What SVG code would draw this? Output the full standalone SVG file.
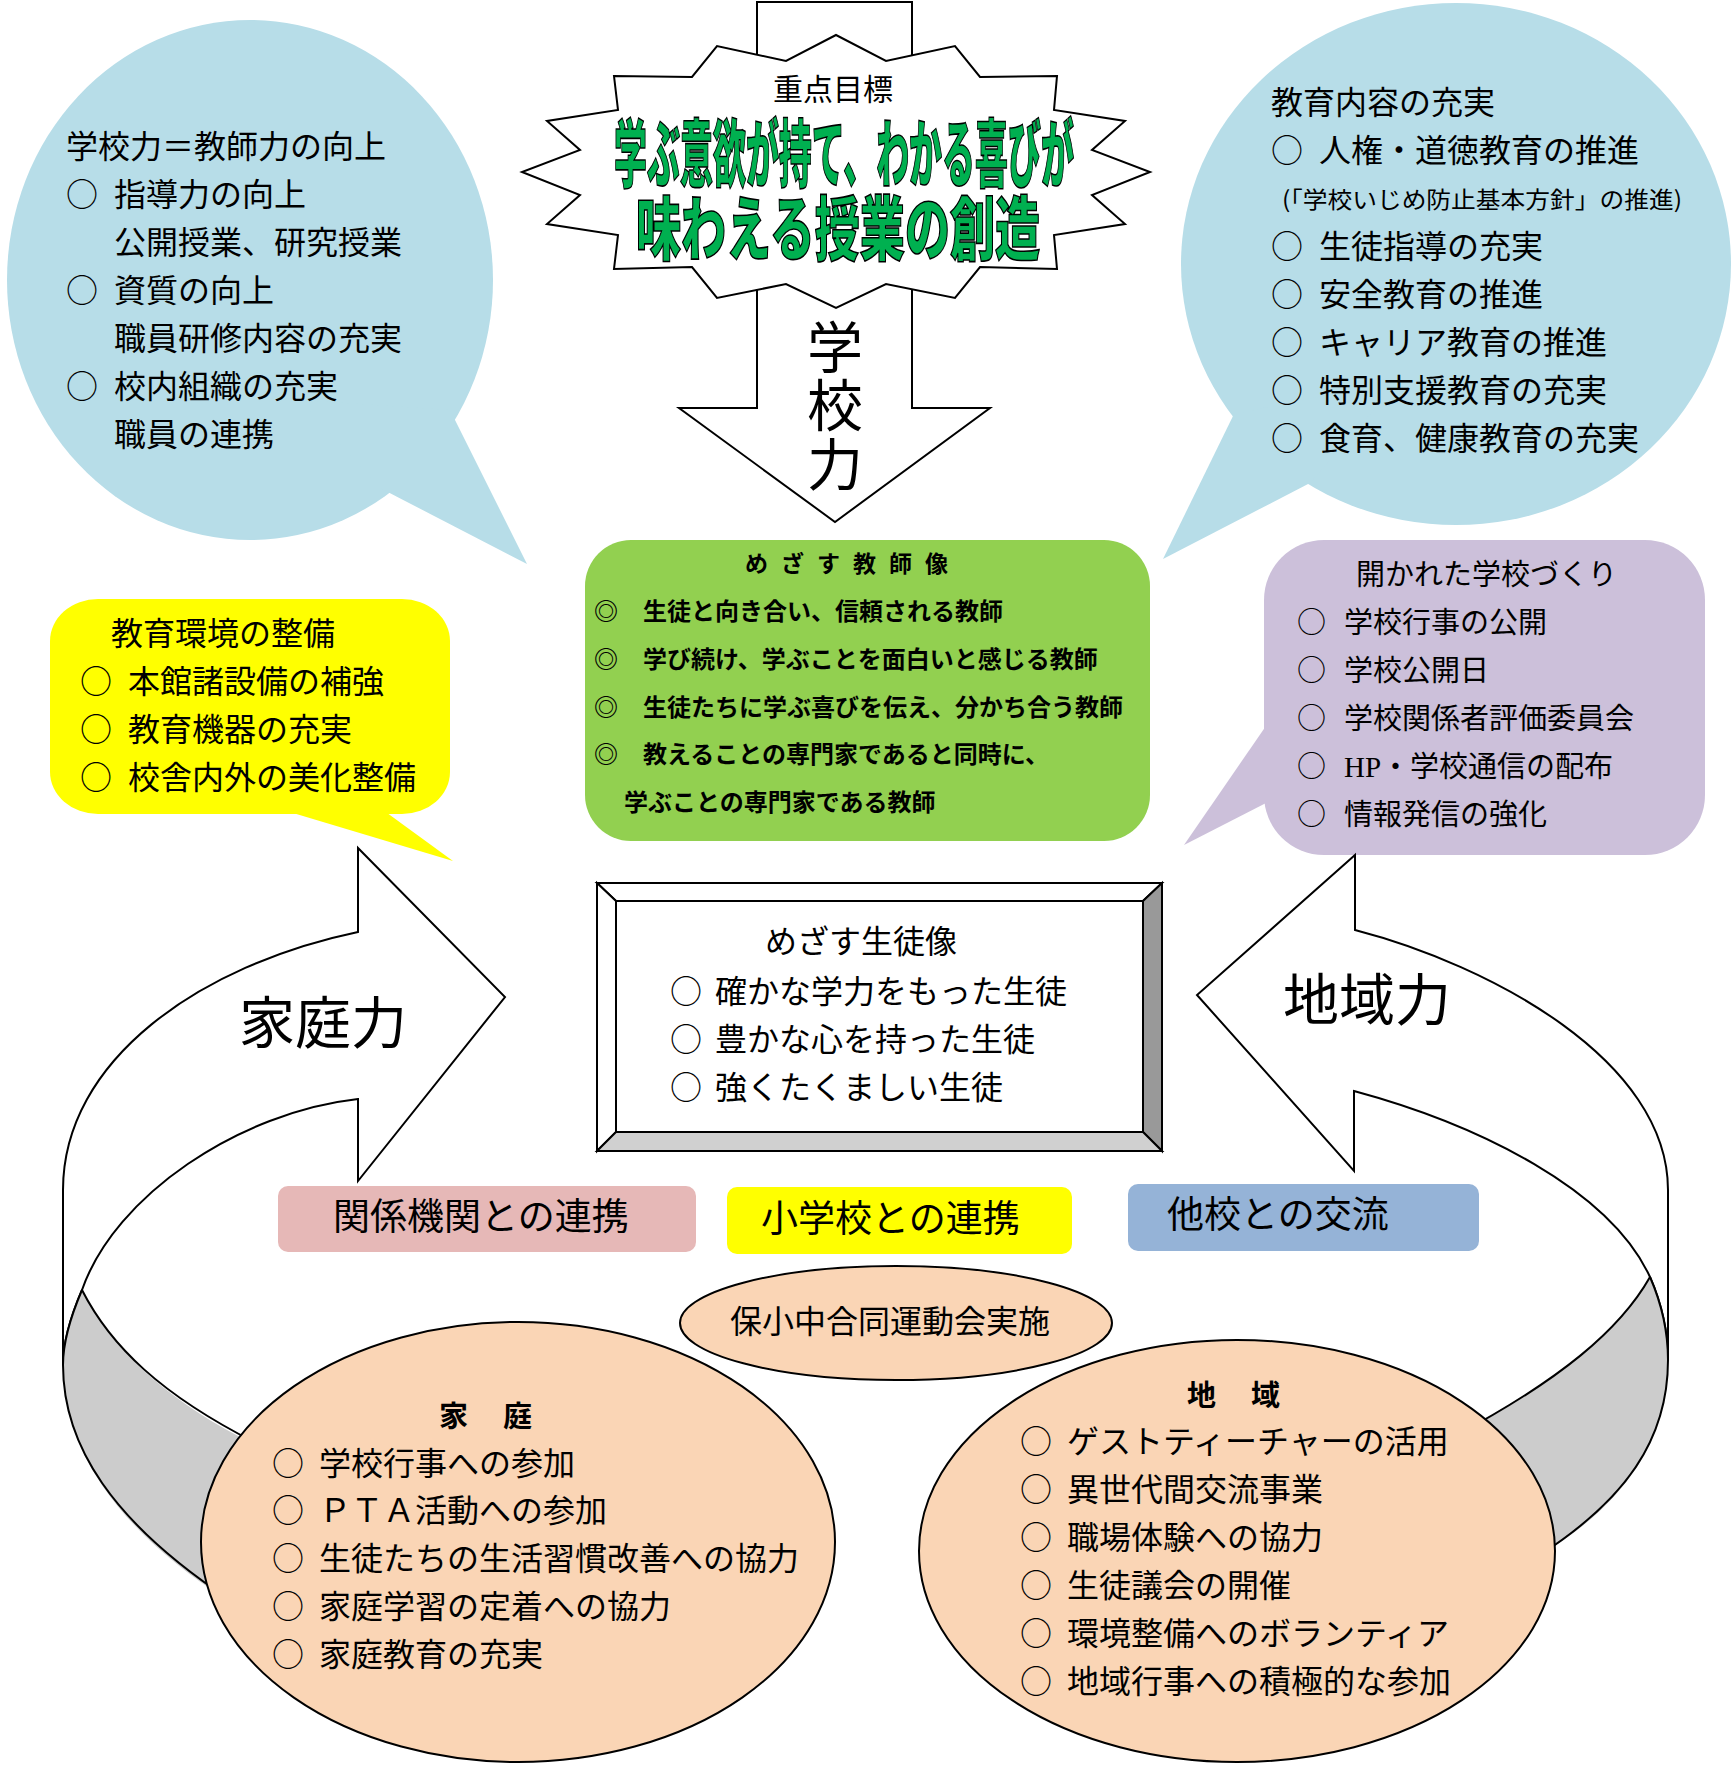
<svg xmlns="http://www.w3.org/2000/svg" width="1732" height="1776" viewBox="0 0 1732 1776">
<style>
text { font-family: 'Noto Sans CJK JP', 'Noto Sans CJK SC', sans-serif; fill: #000; }
.f32 { font-size: 32px; }
.f29 { font-size: 29px; }
.f24 { font-size: 24px; font-weight: 700; }
.bold { font-weight: 700; }
.ln { fill: #fff; stroke: #000; stroke-width: 2; stroke-linejoin: miter; }
.nofill { fill: none; stroke: #000; stroke-width: 2; }
.blue { fill: #b7dde8; }
.gray { fill: #cccccc; }
.orange { fill: #fad5b5; stroke: #000; stroke-width: 2; }
.serif { font-family: 'Liberation Serif', serif; }
</style>
<rect width="1732" height="1776" fill="#fff"/>

<g id="bubble-school-power">
  <ellipse class="blue" cx="250" cy="280" rx="243" ry="260"/>
  <path class="blue" d="M450,410 L527,564 L380,488 L300,400 Z"/>
  <text class="f32" x="66" y="158">学校力＝教師力の向上</text>
  <text class="f32" y="206"><tspan x="66">○</tspan><tspan x="114">指導力の向上</tspan></text>
  <text class="f32" x="114" y="254">公開授業、研究授業</text>
  <text class="f32" y="302"><tspan x="66">○</tspan><tspan x="114">資質の向上</tspan></text>
  <text class="f32" x="114" y="350">職員研修内容の充実</text>
  <text class="f32" y="398"><tspan x="66">○</tspan><tspan x="114">校内組織の充実</tspan></text>
  <text class="f32" x="114" y="446">職員の連携</text>
</g>

<g id="bubble-education-content">
  <ellipse class="blue" cx="1456" cy="264" rx="275" ry="261"/>
  <path class="blue" d="M1234,414 L1163,559 L1310,483 L1400,380 Z"/>
  <text class="f32" x="1271" y="114">教育内容の充実</text>
  <text class="f32" y="162"><tspan x="1271">○</tspan><tspan x="1319">人権・道徳教育の推進</tspan></text>
  <text x="1282" y="208" font-size="23" textLength="400" lengthAdjust="spacingAndGlyphs">(「学校いじめ防止基本方針」の推進)</text>
  <text class="f32" y="258"><tspan x="1271">○</tspan><tspan x="1319">生徒指導の充実</tspan></text>
  <text class="f32" y="306"><tspan x="1271">○</tspan><tspan x="1319">安全教育の推進</tspan></text>
  <text class="f32" y="354"><tspan x="1271">○</tspan><tspan x="1319">キャリア教育の推進</tspan></text>
  <text class="f32" y="402"><tspan x="1271">○</tspan><tspan x="1319">特別支援教育の充実</tspan></text>
  <text class="f32" y="450"><tspan x="1271">○</tspan><tspan x="1319">食育、健康教育の充実</tspan></text>
</g>

<g id="school-power-arrow">
  <polygon class="ln" points="757,2 912,2 912,408 990,408 835,522 679,408 757,408"/>
  <text x="835" y="368" font-size="56" text-anchor="middle">学</text>
  <text x="835" y="426" font-size="56" text-anchor="middle">校</text>
  <text x="835" y="485" font-size="56" text-anchor="middle">力</text>
</g>

<g id="goal-star">
  <polygon class="ln" points="836,35 886,61 955,46 980,77 1057,76 1054,110 1125,121 1092,150 1150,172 1092,195 1125,224 1054,235 1057,269 980,267 955,298 886,284 836,308 786,284 717,298 692,267 614,269 618,235 547,224 580,195 522,172 580,150 547,121 618,110 614,76 692,77 717,46 786,61"/>
  <text x="833" y="100" font-size="30" text-anchor="middle" fill="#222">重点目標</text>
  <text x="614" y="181" font-size="74" font-weight="900" textLength="460" lengthAdjust="spacingAndGlyphs" style="fill:#00b050;stroke:#000;stroke-width:1.6">学ぶ意欲が持て、わかる喜びが</text>
  <text x="636" y="255" font-size="70" font-weight="900" textLength="404" lengthAdjust="spacingAndGlyphs" style="fill:#00b050;stroke:#000;stroke-width:1.6">味わえる授業の創造</text>
</g>

<g id="teacher-image">
  <rect x="585" y="540" width="565" height="301" rx="46" ry="46" fill="#92d050"/>
  <text x="745" y="572" font-size="23" font-weight="700" letter-spacing="13">めざす教師像</text>
  <text class="f24" y="620"><tspan x="594">◎</tspan><tspan x="643">生徒と向き合い、信頼される教師</tspan></text>
  <text class="f24" y="668"><tspan x="594">◎</tspan><tspan x="643">学び続け、学ぶことを面白いと感じる教師</tspan></text>
  <text class="f24" y="716"><tspan x="594">◎</tspan><tspan x="643">生徒たちに学ぶ喜びを伝え、分かち合う教師</tspan></text>
  <text class="f24" y="763"><tspan x="594">◎</tspan><tspan x="643">教えることの専門家であると同時に、</tspan></text>
  <text class="f24" x="624" y="811">学ぶことの専門家である教師</text>
</g>

<g id="environment">
  <rect x="50" y="599" width="400" height="215" rx="48" ry="42" fill="#ffff00"/>
  <path d="M283,810 L453,861 L383,810 Z" fill="#ffff00"/>
  <text class="f32" x="111" y="645">教育環境の整備</text>
  <text class="f32" y="693"><tspan x="80">○</tspan><tspan x="128">本館諸設備の補強</tspan></text>
  <text class="f32" y="741"><tspan x="80">○</tspan><tspan x="128">教育機器の充実</tspan></text>
  <text class="f32" y="789"><tspan x="80">○</tspan><tspan x="128">校舎内外の美化整備</tspan></text>
</g>

<g id="open-school">
  <rect x="1264" y="540" width="441" height="315" rx="60" ry="60" fill="#ccc0da"/>
  <path d="M1268,723 L1184,845 L1268,802 Z" fill="#ccc0da"/>
  <text class="f29" x="1356" y="585">開かれた学校づくり</text>
  <text class="f29" y="633"><tspan x="1297">○</tspan><tspan x="1344">学校行事の公開</tspan></text>
  <text class="f29" y="681"><tspan x="1297">○</tspan><tspan x="1344">学校公開日</tspan></text>
  <text class="f29" y="729"><tspan x="1297">○</tspan><tspan x="1344">学校関係者評価委員会</tspan></text>
  <text class="f29" y="777"><tspan x="1297">○</tspan><tspan x="1344" class="serif">HP</tspan><tspan>・学校通信の配布</tspan></text>
  <text class="f29" y="825"><tspan x="1297">○</tspan><tspan x="1344">情報発信の強化</tspan></text>
</g>

<g id="student-image">
  <polygon class="ln" points="597,883 1162,883 1143,901 616,901"/>
  <polygon class="ln" points="597,883 616,901 616,1132 597,1151"/>
  <polygon class="ln" points="1162,883 1162,1151 1143,1132 1143,901" style="fill:#999999"/>
  <polygon class="ln" points="597,1151 1162,1151 1143,1132 616,1132" style="fill:#d0d0d0"/>
  <rect class="ln" x="616" y="901" width="527" height="231"/>
  <text class="f32" x="765" y="953">めざす生徒像</text>
  <text class="f32" y="1003"><tspan x="670">○</tspan><tspan x="715">確かな学力をもった生徒</tspan></text>
  <text class="f32" y="1051"><tspan x="670">○</tspan><tspan x="715">豊かな心を持った生徒</tspan></text>
  <text class="f32" y="1099"><tspan x="670">○</tspan><tspan x="715">強くたくましい生徒</tspan></text>
</g>

<g id="connectors">
  <g id="home-power-arrow">
    <path class="ln" d="M358,932 L358,848 L505,997 L358,1181 L358,1099 C240,1112 115,1195 82,1290 C70,1318 63,1345 63,1365 L63,1190 C63,1060 200,965 358,932 Z"/>
    <path class="gray" d="M82,1290 C70,1318 63,1345 63,1365 C63,1445 112,1522 212,1590 L330,1600 L300,1460 L240,1437 C160,1395 110,1345 82,1290 Z"/>
    <path class="nofill" d="M82,1290 C70,1318 63,1345 63,1365 C63,1445 112,1522 230,1600"/>
    <path class="nofill" d="M82,1290 C110,1345 160,1395 260,1445"/>
    <text x="239" y="1043" font-size="56">家庭力</text>
  </g>
  <g id="community-power-arrow">
    <path class="ln" d="M1355,930 L1355,855 L1197,995 L1354,1171 L1354,1091 C1480,1125 1610,1190 1650,1277 C1660,1300 1668,1330 1668,1360 L1668,1190 C1668,1060 1490,965 1355,930 Z"/>
    <path class="gray" d="M1650,1277 C1660,1300 1668,1330 1668,1360 C1668,1440 1625,1500 1556,1545 L1500,1530 L1460,1440 L1470,1428 C1560,1380 1620,1330 1650,1277 Z"/>
    <path class="nofill" d="M1650,1277 C1660,1300 1668,1330 1668,1360 C1668,1440 1625,1500 1540,1555"/>
    <path class="nofill" d="M1650,1277 C1620,1330 1560,1380 1455,1436"/>
    <text x="1283" y="1020" font-size="56">地域力</text>
  </g>
</g>

<g id="related-agencies">
  <rect x="278" y="1186" width="418" height="66" rx="10" ry="10" fill="#e6b8b7"/>
  <text x="333" y="1230" font-size="37">関係機関との連携</text>
</g>
<g id="elementary-school">
  <rect x="727" y="1187" width="345" height="67" rx="10" ry="10" fill="#ffff00"/>
  <text x="761" y="1232" font-size="37">小学校との連携</text>
</g>
<g id="other-schools">
  <rect x="1128" y="1184" width="351" height="67" rx="10" ry="10" fill="#95b3d7"/>
  <text x="1167" y="1228" font-size="37">他校との交流</text>
</g>

<g id="joint-sports">
  <ellipse class="orange" cx="896" cy="1323" rx="216" ry="57"/>
  <text class="f32" x="890" y="1333" text-anchor="middle">保小中合同運動会実施</text>
</g>

<g id="home">
  <ellipse class="orange" cx="518" cy="1542" rx="317" ry="220"/>
  <text class="f29 bold" y="1427"><tspan x="439">家</tspan><tspan x="503">庭</tspan></text>
  <text class="f32" y="1475"><tspan x="272">○</tspan><tspan x="319">学校行事への参加</tspan></text>
  <text class="f32" y="1522"><tspan x="272">○</tspan><tspan x="319">ＰＴＡ活動への参加</tspan></text>
  <text class="f32" y="1570"><tspan x="272">○</tspan><tspan x="319">生徒たちの生活習慣改善への協力</tspan></text>
  <text class="f32" y="1618"><tspan x="272">○</tspan><tspan x="319">家庭学習の定着への協力</tspan></text>
  <text class="f32" y="1666"><tspan x="272">○</tspan><tspan x="319">家庭教育の充実</tspan></text>
</g>

<g id="community">
  <ellipse class="orange" cx="1237" cy="1551" rx="318" ry="211"/>
  <text class="f29 bold" y="1406"><tspan x="1187">地</tspan><tspan x="1251">域</tspan></text>
  <text class="f32" y="1453"><tspan x="1020">○</tspan><tspan x="1067">ゲストティーチャーの活用</tspan></text>
  <text class="f32" y="1501"><tspan x="1020">○</tspan><tspan x="1067">異世代間交流事業</tspan></text>
  <text class="f32" y="1549"><tspan x="1020">○</tspan><tspan x="1067">職場体験への協力</tspan></text>
  <text class="f32" y="1597"><tspan x="1020">○</tspan><tspan x="1067">生徒議会の開催</tspan></text>
  <text class="f32" y="1645"><tspan x="1020">○</tspan><tspan x="1067">環境整備へのボランティア</tspan></text>
  <text class="f32" y="1693"><tspan x="1020">○</tspan><tspan x="1067">地域行事への積極的な参加</tspan></text>
</g>
</svg>
